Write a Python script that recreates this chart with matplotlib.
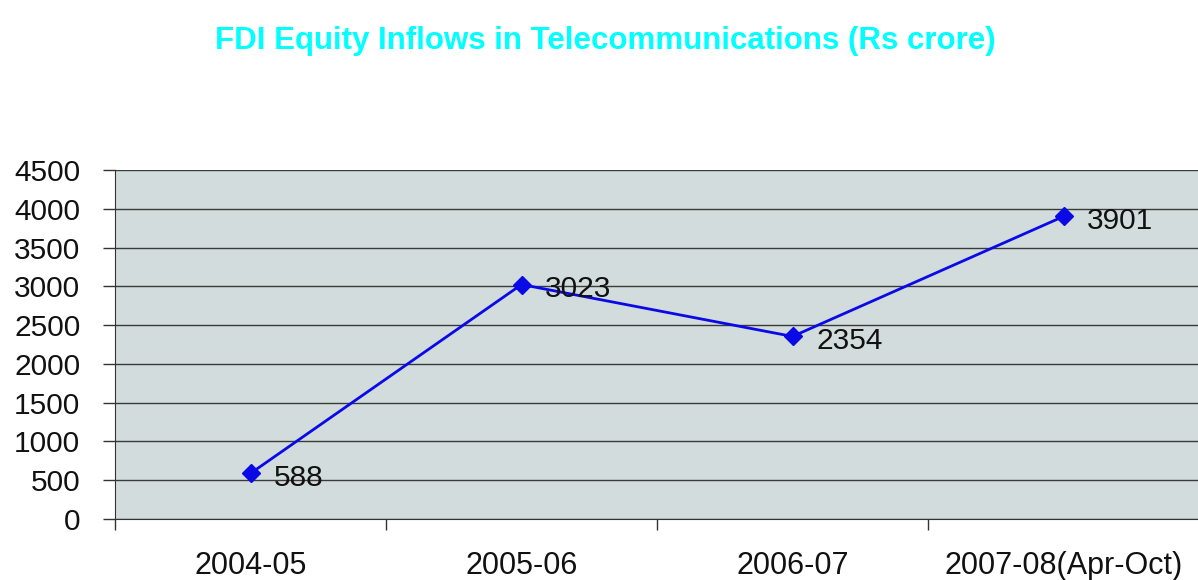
import matplotlib
matplotlib.use("Agg")
import matplotlib.pyplot as plt

categories = ["2004-05", "2005-06", "2006-07", "2007-08(Apr-Oct)"]
values = [588, 3023, 2354, 3901]
yticks = [0, 500, 1000, 1500, 2000, 2500, 3000, 3500, 4000, 4500]

plt.rcParams['font.family'] = ['Liberation Sans', 'DejaVu Sans']

W, H = 1198, 580
fig = plt.figure(figsize=(W / 100, H / 100), dpi=100)
ax = fig.add_axes([115 / W, 1 - 519 / H, (1199 - 115) / W, (519 - 170) / H])
ax.set_facecolor("#d3dcdc")

x = list(range(len(categories)))
ax.plot(x, values, color="#0a0ae6", linewidth=2, marker="D", markersize=9,
        markerfacecolor="#0a0ae6", markeredgecolor="#0a0ae6", zorder=3)
for xi, v in zip(x, values):
    ax.annotate(str(v), (xi, v), xytext=(17, -3), textcoords="offset points",
                ha="left", va="center", fontsize=21.5, color="#111111")

ax.set_xlim(-0.5, len(categories) - 0.5)
ax.set_ylim(0, 4500)
ax.set_yticks(yticks)
ax.set_yticklabels([str(t) for t in yticks], fontsize=21.5, color="#111111")
ax.set_xticks(x)
ax.set_xticklabels(categories, fontsize=22, color="#111111")
ax.tick_params(axis="x", length=0, pad=23)
ax.tick_params(axis="y", length=9, width=1, color="#333333", pad=16)
# category boundary ticks
ax.set_xticks([i - 0.5 for i in range(len(categories) + 1)], minor=True)
ax.tick_params(axis="x", which="minor", length=8, width=1, color="#333333")

ax.grid(axis="y", color="#3a3a3a", linewidth=1)
ax.set_axisbelow(True)
for s in ["top", "right"]:
    ax.spines[s].set_visible(False)
ax.spines["left"].set_color("#333333")
ax.spines["bottom"].set_color("#333333")

fig.text(605 / W, 1 - 41 / H, "FDI Equity Inflows in Telecommunications (Rs crore)",
         ha="center", va="center", fontsize=22.5, fontweight="bold", color="#00ffff")

fig.savefig("out.png", dpi=100)
